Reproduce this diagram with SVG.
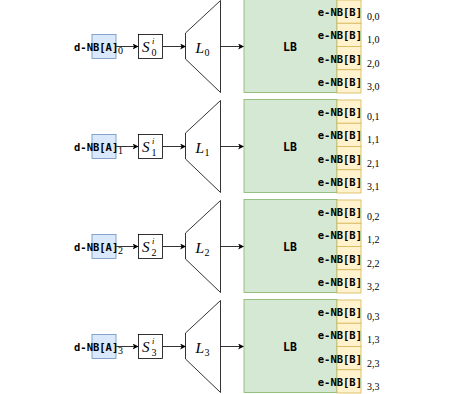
<svg xmlns="http://www.w3.org/2000/svg" width="454" height="394" viewBox="0 0 454 394">
<defs>
<style>
.mono{font-family:"DejaVu Sans Mono","Liberation Mono",monospace;font-weight:bold;font-size:10.5px;fill:#000}
.lb{font-size:11.5px}
.math{font-family:"Liberation Serif","DejaVu Serif",serif;fill:#000}
.it{font-style:italic}
.sub{font-size:10px}
.blue{fill:#dae8fc;stroke:#6c8ebf;stroke-width:0.8}
.plain{fill:#fff;stroke:#000;stroke-width:0.8}
.green{fill:#d5e8d4;stroke:#82b366;stroke-width:0.8}
.yellow{fill:#fff2cc;stroke:#d6b656;stroke-width:0.8}
.trap{fill:#fff;stroke:#000;stroke-width:0.8}
.conn{stroke:#000;stroke-width:0.8;fill:none;marker-end:url(#ah)}
</style>
<marker id="ah" viewBox="0 0 10 10" refX="9" refY="5" markerWidth="6" markerHeight="6" markerUnits="userSpaceOnUse" orient="auto">
<path d="M0,0 L10,5 L0,10 L2.5,5 Z" fill="#000"/>
</marker>
</defs>

<g id="connectors">
<path class="conn" d="M116,46.5 H138"/>
<path class="conn" d="M162.5,46.5 H185.5"/>
<path class="conn" d="M220.5,46.5 H243.5"/>
<path class="conn" d="M116,146.5 H138"/>
<path class="conn" d="M162.5,146.5 H185.5"/>
<path class="conn" d="M220.5,146.5 H243.5"/>
<path class="conn" d="M116,246.5 H138"/>
<path class="conn" d="M162.5,246.5 H185.5"/>
<path class="conn" d="M220.5,246.5 H243.5"/>
<path class="conn" d="M116,346.5 H138"/>
<path class="conn" d="M162.5,346.5 H185.5"/>
<path class="conn" d="M220.5,346.5 H243.5"/>
</g>

<!-- Row 0 -->
<g id="dnba0"><rect class="blue" x="92" y="34.5" width="24" height="24"/>
<text class="mono" x="74" y="50.5">d-NB[A]</text><text class="math sub" x="118" y="54">0</text></g>
<g id="s0"><rect class="plain" x="138.5" y="34.5" width="24" height="24"/>
<text class="math it" x="142" y="52" font-size="15">S</text><text class="math it" x="152" y="44" font-size="8.5">i</text><text class="math sub" x="151.5" y="56">0</text></g>
<g id="l0"><polygon class="trap" points="185.5,33 220.5,0.5 220.5,92.5 185.5,59"/>
<text class="math it" x="195.5" y="52.5" font-size="15.5">L</text><text class="math sub" x="204.5" y="55.5">0</text></g>
<g id="lb0"><rect class="green" x="244" y="-0.5" width="93" height="93"/>
<text class="mono lb" x="290" y="51" text-anchor="middle">LB</text></g>
<g id="enb00"><rect class="yellow" x="337" y="0" width="24" height="23.25"/><text class="mono" x="362" y="15.5" text-anchor="end">e-NB[B]</text><text class="math sub" x="367" y="19.5">0,0</text></g>
<g id="enb10"><rect class="yellow" x="337" y="23.25" width="24" height="23.25"/><text class="mono" x="362" y="39" text-anchor="end">e-NB[B]</text><text class="math sub" x="367" y="43">1,0</text></g>
<g id="enb20"><rect class="yellow" x="337" y="46.5" width="24" height="23.25"/><text class="mono" x="362" y="62.5" text-anchor="end">e-NB[B]</text><text class="math sub" x="367" y="66.5">2,0</text></g>
<g id="enb30"><rect class="yellow" x="337" y="69.75" width="24" height="23.25"/><text class="mono" x="362" y="86" text-anchor="end">e-NB[B]</text><text class="math sub" x="367" y="90">3,0</text></g>

<!-- Row 1 -->
<g id="dnba1"><rect class="blue" x="92" y="134.5" width="24" height="24"/>
<text class="mono" x="74" y="150.5">d-NB[A]</text><text class="math sub" x="118" y="154">1</text></g>
<g id="s1"><rect class="plain" x="138.5" y="134.5" width="24" height="24"/>
<text class="math it" x="142" y="152" font-size="15">S</text><text class="math it" x="152" y="144" font-size="8.5">i</text><text class="math sub" x="151.5" y="156">1</text></g>
<g id="l1"><polygon class="trap" points="185.5,133 220.5,100.5 220.5,192.5 185.5,159"/>
<text class="math it" x="195.5" y="152.5" font-size="15.5">L</text><text class="math sub" x="204.5" y="155.5">1</text></g>
<g id="lb1"><rect class="green" x="244" y="99.5" width="93" height="93"/>
<text class="mono lb" x="290" y="151" text-anchor="middle">LB</text></g>
<g id="enb01"><rect class="yellow" x="337" y="100" width="24" height="23.25"/><text class="mono" x="362" y="115.5" text-anchor="end">e-NB[B]</text><text class="math sub" x="367" y="119.5">0,1</text></g>
<g id="enb11"><rect class="yellow" x="337" y="123.25" width="24" height="23.25"/><text class="mono" x="362" y="139" text-anchor="end">e-NB[B]</text><text class="math sub" x="367" y="143">1,1</text></g>
<g id="enb21"><rect class="yellow" x="337" y="146.5" width="24" height="23.25"/><text class="mono" x="362" y="162.5" text-anchor="end">e-NB[B]</text><text class="math sub" x="367" y="166.5">2,1</text></g>
<g id="enb31"><rect class="yellow" x="337" y="169.75" width="24" height="23.25"/><text class="mono" x="362" y="186" text-anchor="end">e-NB[B]</text><text class="math sub" x="367" y="190">3,1</text></g>

<!-- Row 2 -->
<g id="dnba2"><rect class="blue" x="92" y="234.5" width="24" height="24"/>
<text class="mono" x="74" y="250.5">d-NB[A]</text><text class="math sub" x="118" y="254">2</text></g>
<g id="s2"><rect class="plain" x="138.5" y="234.5" width="24" height="24"/>
<text class="math it" x="142" y="252" font-size="15">S</text><text class="math it" x="152" y="244" font-size="8.5">i</text><text class="math sub" x="151.5" y="256">2</text></g>
<g id="l2"><polygon class="trap" points="185.5,233 220.5,200.5 220.5,292.5 185.5,259"/>
<text class="math it" x="195.5" y="252.5" font-size="15.5">L</text><text class="math sub" x="204.5" y="255.5">2</text></g>
<g id="lb2"><rect class="green" x="244" y="199.5" width="93" height="93"/>
<text class="mono lb" x="290" y="251" text-anchor="middle">LB</text></g>
<g id="enb02"><rect class="yellow" x="337" y="200" width="24" height="23.25"/><text class="mono" x="362" y="215.5" text-anchor="end">e-NB[B]</text><text class="math sub" x="367" y="219.5">0,2</text></g>
<g id="enb12"><rect class="yellow" x="337" y="223.25" width="24" height="23.25"/><text class="mono" x="362" y="239" text-anchor="end">e-NB[B]</text><text class="math sub" x="367" y="243">1,2</text></g>
<g id="enb22"><rect class="yellow" x="337" y="246.5" width="24" height="23.25"/><text class="mono" x="362" y="262.5" text-anchor="end">e-NB[B]</text><text class="math sub" x="367" y="266.5">2,2</text></g>
<g id="enb32"><rect class="yellow" x="337" y="269.75" width="24" height="23.25"/><text class="mono" x="362" y="286" text-anchor="end">e-NB[B]</text><text class="math sub" x="367" y="290">3,2</text></g>

<!-- Row 3 -->
<g id="dnba3"><rect class="blue" x="92" y="334.5" width="24" height="24"/>
<text class="mono" x="74" y="350.5">d-NB[A]</text><text class="math sub" x="118" y="354">3</text></g>
<g id="s3"><rect class="plain" x="138.5" y="334.5" width="24" height="24"/>
<text class="math it" x="142" y="352" font-size="15">S</text><text class="math it" x="152" y="344" font-size="8.5">i</text><text class="math sub" x="151.5" y="356">3</text></g>
<g id="l3"><polygon class="trap" points="185.5,333 220.5,300.5 220.5,392.5 185.5,359"/>
<text class="math it" x="195.5" y="352.5" font-size="15.5">L</text><text class="math sub" x="204.5" y="355.5">3</text></g>
<g id="lb3"><rect class="green" x="244" y="299.5" width="93" height="93"/>
<text class="mono lb" x="290" y="351" text-anchor="middle">LB</text></g>
<g id="enb03"><rect class="yellow" x="337" y="300" width="24" height="23.25"/><text class="mono" x="362" y="315.5" text-anchor="end">e-NB[B]</text><text class="math sub" x="367" y="319.5">0,3</text></g>
<g id="enb13"><rect class="yellow" x="337" y="323.25" width="24" height="23.25"/><text class="mono" x="362" y="339" text-anchor="end">e-NB[B]</text><text class="math sub" x="367" y="343">1,3</text></g>
<g id="enb23"><rect class="yellow" x="337" y="346.5" width="24" height="23.25"/><text class="mono" x="362" y="362.5" text-anchor="end">e-NB[B]</text><text class="math sub" x="367" y="366.5">2,3</text></g>
<g id="enb33"><rect class="yellow" x="337" y="369.75" width="24" height="23.25"/><text class="mono" x="362" y="386" text-anchor="end">e-NB[B]</text><text class="math sub" x="367" y="390">3,3</text></g>
</svg>
